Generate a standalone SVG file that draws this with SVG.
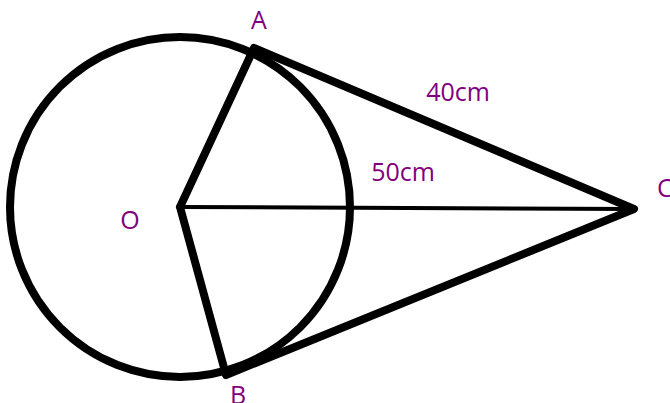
<svg xmlns="http://www.w3.org/2000/svg" width="670" height="403" viewBox="0 0 670 403">
<style>
.thick{fill:none;stroke:#000;stroke-width:8;stroke-linejoin:round;stroke-linecap:round}
.thin{fill:none;stroke:#000;stroke-width:4}
.lbl{fill:#800080;font-family:"Open Sans","DejaVu Sans",sans-serif;font-size:25px}
</style>
<rect width="670" height="403" fill="#fff"/>
<g id="circle"><circle cx="180" cy="207" r="170" class="thick"/></g>
<g id="connectors">
<line x1="180" y1="207" x2="634" y2="209" class="thin"/>
<polyline points="180,207 254,48 634,209 226,375 180,207" class="thick"/>
</g>
<g id="O"><text x="130" y="229" class="lbl" text-anchor="middle">O</text></g>
<g id="A"><text x="259" y="29" class="lbl" text-anchor="middle">A</text></g>
<g id="B"><text x="238" y="404" class="lbl" text-anchor="middle">B</text></g>
<g id="C"><text x="657" y="197" class="lbl">C</text></g>
<g id="l40"><text x="458" y="101" class="lbl" text-anchor="middle">40cm</text></g>
<g id="l50"><text x="403" y="181" class="lbl" text-anchor="middle">50cm</text></g>
</svg>
